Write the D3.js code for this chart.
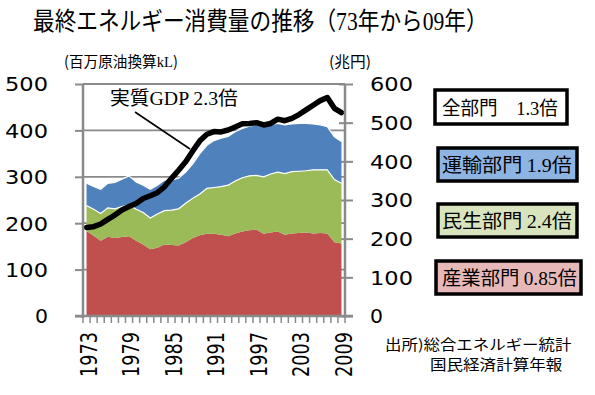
<!DOCTYPE html>
<html><head><meta charset="utf-8">
<script src="https://cdn.jsdelivr.net/npm/d3@7"></script>
<style>body{margin:0;background:#fff} svg{display:block}</style>
</head><body>
<svg id="c" width="595" height="395"></svg>
<script>
// ---- data ----
const years = [1973,1974,1975,1976,1977,1978,1979,1980,1981,1982,1983,1984,1985,1986,1987,1988,1989,1990,1991,1992,1993,1994,1995,1996,1997,1998,1999,2000,2001,2002,2003,2004,2005,2006,2007,2008,2009];
// 産業部門 (百万原油換算kL)
const industry = [183,173,162,171,168,170,172,162,154,144,147,154,153,152,159,168,174,177,177,175,172,178,182,185,186,177,180,182,175,178,179,180,178,179,178,159,156];
// 民生部門
const residential = [55,57,59,62,63,66,68,68,69,67,73,73,75,79,84,86,89,98,100,104,110,113,116,117,117,123,126,128,132,133,133,133,137,136,137,135,130];
// 運輸部門
const transport = [48,49,52,53,57,59,62,59,59,62,62,66,65,66,67,74,87,93,101,104,105,106,106,107,109,108,107,105,105,103,103,102,99,97,93,92,90];
// 実質GDP (兆円)
const gdp = [229,231,238,250,261,274,283,291,304,311,319,334,356,377,399,427,453,470,477,476,481,489,497,498,500,494,498,509,505,511,521,533,545,557,565,537,526];
const leftTicks = [0,100,200,300,400,500];
const rightTicks = [0,100,200,300,400,500,600];
const xTickLabels = [1973,1979,1985,1991,1997,2003,2009];
const legendItems = [
  {jp:'全部門　', num:'1.3'},
  {jp:'運輸部門 ', num:'1.9'},
  {jp:'民生部門 ', num:'2.4'},
  {jp:'産業部門 ', num:'0.85'}
];

// ---- style / layout ----
const JP = '"Noto Sans CJK JP","Noto Sans CJK SC",sans-serif';
const SERIF = '"Liberation Serif","DejaVu Serif",serif';
const NUM = '"DejaVu Sans",Verdana,sans-serif';
const GRAY = '#8a8a8a';
const colors = {industry:'#c0504d', residential:'#9bbb59', transport:'#4f81bd'};
const L = 83, R = 345, T = 84, B = 316;

const svg = d3.select('#c');

const x = d3.scaleBand().domain(years).range([L, R]).padding(0);
const xc = d => x(d) + x.bandwidth() / 2;
const yL = d3.scaleLinear().domain([0, 500]).range([B, T]);
const yR = d3.scaleLinear().domain([0, 600]).range([B, T]);

function fit(t, w) {
  const bw = t.node().getBBox().width;
  return w / bw;
}
function fitText(parts, px, py, w, size, anchor) {
  const t = svg.append('text').attr('font-size', size).attr('text-anchor', anchor || 'start').attr('fill', '#000');
  parts.forEach(p => t.append('tspan').attr('font-family', p.f).text(p.t));
  const s = fit(t, w);
  t.attr('transform', `translate(${px},${py}) scale(${s},1)`);
  return t;
}

// gridlines
svg.append('g').selectAll('line').data(leftTicks.filter(v => v > 0)).join('line')
  .attr('x1', L).attr('x2', R).attr('y1', d => yL(d)).attr('y2', d => yL(d))
  .attr('stroke', GRAY).attr('stroke-width', 1.8);

// left axis
const gL = svg.append('g').attr('transform', `translate(${L},0)`)
  .call(d3.axisLeft(yL).tickValues(leftTicks).tickSize(8).tickPadding(0));
gL.select('.domain').remove();
gL.selectAll('.tick line').attr('stroke', GRAY).attr('stroke-width', 2);
gL.selectAll('.tick text').each(function(d) {
  const t = d3.select(this).attr('x', 0).attr('dy', '0.36em')
    .attr('font-family', NUM).attr('font-size', 19).attr('fill', '#000').attr('text-anchor', 'end');
  const w = String(d).length === 1 ? 13 : 43;
  const s = fit(t, w);
  t.attr('transform', `translate(-35,0) scale(${s},1)`);
});

// right axis
const gR = svg.append('g').attr('transform', `translate(${R},0)`)
  .call(d3.axisRight(yR).tickValues(rightTicks).tickSize(8).tickPadding(0));
gR.select('.domain').remove();
gR.selectAll('.tick line').attr('stroke', GRAY).attr('stroke-width', 2).attr('x1', -6);
gR.selectAll('.tick text').each(function(d) {
  const t = d3.select(this).attr('x', 0).attr('dy', '0.36em')
    .attr('font-family', NUM).attr('font-size', 19).attr('fill', '#000').attr('text-anchor', 'start');
  const w = String(d).length === 1 ? 13 : 43;
  const s = fit(t, w);
  t.attr('transform', `translate(25,0) scale(${s},1)`);
});

// stacked areas
const table = years.map((yr, i) => ({year: yr, industry: industry[i], residential: residential[i], transport: transport[i]}));
const stack = d3.stack().keys(['industry', 'residential', 'transport'])(table);
const area = d3.area().x(d => xc(d.data.year)).y0(d => yL(d[0])).y1(d => yL(d[1]));
svg.append('g').selectAll('path').data(stack).join('path')
  .attr('d', area).attr('fill', d => colors[d.key]);
// white separators
const topLine = d3.line().x(d => xc(d.data.year)).y(d => yL(d[1]));
svg.append('path').attr('d', topLine(stack[1])).attr('fill', 'none').attr('stroke', '#fff').attr('stroke-width', 1.2);
svg.append('path').attr('d', topLine(stack[2])).attr('fill', 'none').attr('stroke', '#fff').attr('stroke-width', 1.2);

// GDP line
const gdpLine = d3.line().x((d, i) => xc(years[i])).y(d => yR(d));
svg.append('path').attr('d', gdpLine(gdp)).attr('fill', 'none').attr('stroke', '#000')
  .attr('stroke-width', 5.5).attr('stroke-linejoin', 'round').attr('stroke-linecap', 'round');

// axis lines
svg.append('line').attr('x1', L).attr('x2', L).attr('y1', T).attr('y2', B + 2).attr('stroke', GRAY).attr('stroke-width', 2.5);
svg.append('line').attr('x1', R).attr('x2', R).attr('y1', T).attr('y2', B + 2).attr('stroke', GRAY).attr('stroke-width', 2.5);
svg.append('line').attr('x1', L - 8).attr('x2', R + 8).attr('y1', B).attr('y2', B).attr('stroke', GRAY).attr('stroke-width', 2.5);

// x minor ticks at category boundaries
const bounds = years.map(yr => x(yr)).concat([x.range()[1]]);
svg.append('g').selectAll('line').data(bounds).join('line')
  .attr('x1', d => d).attr('x2', d => d).attr('y1', B).attr('y2', B + 7)
  .attr('stroke', GRAY).attr('stroke-width', 1.5);

// x labels
const gX = svg.append('g').attr('transform', `translate(0,${B})`)
  .call(d3.axisBottom(x).tickValues(xTickLabels).tickSize(0).tickPadding(0));
gX.select('.domain').remove();
gX.selectAll('.tick text').each(function() {
  const t = d3.select(this).attr('x', 0).attr('y', 0).attr('dy', '0.36em')
    .attr('font-family', NUM).attr('font-size', 23).attr('fill', '#000').attr('text-anchor', 'end');
  const s = fit(t, 45);
  t.attr('transform', `translate(2,16) rotate(-90) scale(${s},1)`);
});

// title
fitText([{t:'最終エネルギー消費量の推移（', f:JP}, {t:'73', f:SERIF}, {t:'年から', f:JP}, {t:'09', f:SERIF}, {t:'年）', f:JP}], 33, 29.5, 455, 25);
// unit labels
fitText([{t:'(百万原油換算', f:JP}, {t:'kL', f:SERIF}, {t:')', f:JP}], 64, 67, 114, 15);
fitText([{t:'(兆円)', f:JP}], 329, 67, 42, 15);

// GDP annotation
fitText([{t:'実質', f:JP}, {t:'GDP 2.3', f:SERIF}, {t:'倍', f:JP}], 110, 105, 128, 19);
svg.append('line').attr('x1', 135).attr('y1', 112).attr('x2', 190).attr('y2', 149)
  .attr('stroke', '#000').attr('stroke-width', 1.6);

// legend boxes
const boxes = [
  {x:435, y:90, w:132, h:34, fill:'#ffffff', tx:442, ty:114.5, tw:116},
  {x:438, y:148, w:139, h:33, fill:'#8eb4e3', tx:442, ty:172, tw:130},
  {x:438, y:204, w:139, h:33, fill:'#d7e4bd', tx:442, ty:228, tw:130},
  {x:436, y:261, w:145, h:33, fill:'#e6b9b8', tx:442, ty:285, tw:135}
];
boxes.forEach((b, i) => {
  svg.append('rect').attr('x', b.x).attr('y', b.y).attr('width', b.w).attr('height', b.h)
    .attr('fill', b.fill).attr('stroke', '#000').attr('stroke-width', 3.5);
  fitText([{t:legendItems[i].jp, f:JP}, {t:legendItems[i].num, f:SERIF}, {t:'倍', f:JP}], b.tx, b.ty, b.tw, 19);
});

// source
fitText([{t:'出所)総合エネルギー統計', f:JP}], 385, 350, 187, 14.5);
fitText([{t:'国民経済計算年報', f:JP}], 430, 369.5, 133, 14.5);
</script>
</body></html>
